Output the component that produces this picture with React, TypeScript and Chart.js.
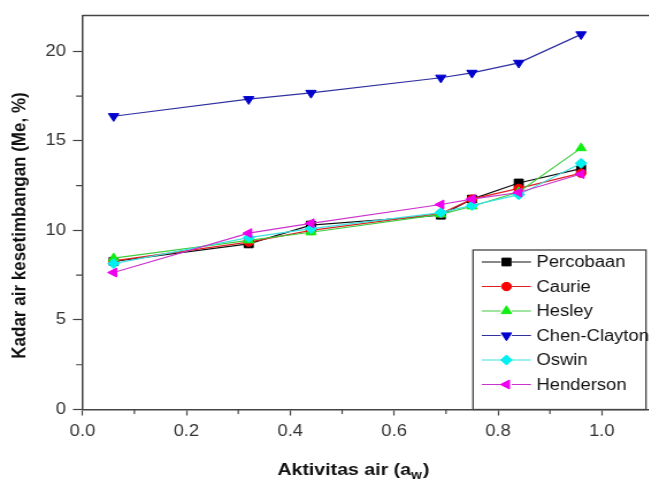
import React, { useEffect, useRef } from 'react';
import { Chart, registerables } from 'chart.js';
import { drawPoint } from 'chart.js/helpers';

Chart.register(...registerables);

// ---- data ----
const aw = [0.06, 0.32, 0.44, 0.69, 0.75, 0.84, 0.96];
const percobaan = [8.27, 9.25, 10.3, 10.85, 11.75, 12.65, 13.45];
const caurie = [8.3, 9.35, 10.0, 10.95, 11.75, 12.35, 13.2];
const hesley = [8.45, 9.45, 9.9, 10.9, 11.35, 12.15, 14.6];
const chenClayton = [16.38, 17.33, 17.68, 18.53, 18.8, 19.36, 20.95];
const oswin = [8.15, 9.6, 10.1, 11.0, 11.4, 12.0, 13.75];
const henderson = [7.65, 9.85, 10.4, 11.45, 11.75, 12.12, 13.15];

const seriesNames = ['Percobaan', 'Caurie', 'Hesley', 'Chen-Clayton', 'Oswin', 'Henderson'];
const seriesValues = [percobaan, caurie, hesley, chenClayton, oswin, henderson];

const xTicks = [0, 0.2, 0.4, 0.6, 0.8, 1.0];
const xMinorTicks = [0.1, 0.3, 0.5, 0.7, 0.9];
const yTicks = [0, 5, 10, 15, 20];
const yMinorTicks = [2.5, 7.5, 12.5, 17.5];

const xTitleMain = 'Aktivitas air (a';
const xTitleSub = 'w';
const xTitleEnd = ')';
const yTitle = 'Kadar air kesetimbangan (Me, %)';

// ---- styles ----
const SX = 1.15;
const W = 575;
const H = 481;
const AXIS = '#444';
const FONT = '"Liberation Sans", Arial, sans-serif';

const styles = [
  { marker: '#000000', line: '#111111', pointStyle: 'rect', rotation: 0, radius: 5.5 },
  { marker: '#ff0000', line: '#e02020', pointStyle: 'circle', rotation: 0, radius: 4.2 },
  { marker: '#11ee11', line: '#40cc40', pointStyle: 'triangle', rotation: 0, radius: 5.2 },
  { marker: '#0000cc', line: '#3030a0', pointStyle: 'triangle', rotation: 180, radius: 5.2 },
  { marker: '#00f0f0', line: '#40e0e0', pointStyle: 'rectRot', rotation: 0, radius: 5 },
  { marker: '#ee00ee', line: '#cc33cc', pointStyle: 'triangle', rotation: 270, radius: 5.2 },
];

const framePlugin = {
  id: 'frame',
  afterDraw(chart: any) {
    const { ctx, chartArea: ca, scales } = chart;
    const x = scales.x;
    const y = scales.y;
    ctx.save();
    // top border
    ctx.strokeStyle = AXIS;
    ctx.lineWidth = 1.5;
    ctx.beginPath();
    ctx.moveTo(ca.left, ca.top);
    ctx.lineTo(ca.right, ca.top);
    ctx.stroke();
    // minor ticks
    ctx.lineWidth = 1.2;
    ctx.beginPath();
    xMinorTicks.forEach((v) => {
      const px = x.getPixelForValue(v);
      ctx.moveTo(px, ca.bottom);
      ctx.lineTo(px, ca.bottom + 4.5);
    });
    yMinorTicks.forEach((v) => {
      const py = y.getPixelForValue(v);
      ctx.moveTo(ca.left, py);
      ctx.lineTo(ca.left - 5.5, py);
    });
    ctx.stroke();

    // titles
    ctx.fillStyle = '#111';
    ctx.font = `bold 17px ${FONT}`;
    const wMain = ctx.measureText(xTitleMain).width;
    ctx.font = `bold 12px ${FONT}`;
    const wSub = ctx.measureText(xTitleSub).width;
    ctx.font = `bold 17px ${FONT}`;
    const wEnd = ctx.measureText(xTitleEnd).width;
    const total = wMain + wSub + wEnd + 1;
    let tx = 307.3 - total / 2;
    const ty = 475;
    ctx.textAlign = 'left';
    ctx.textBaseline = 'alphabetic';
    ctx.fillText(xTitleMain, tx, ty);
    tx += wMain;
    ctx.font = `bold 12px ${FONT}`;
    ctx.fillText(xTitleSub, tx, ty + 4);
    tx += wSub + 1;
    ctx.font = `bold 17px ${FONT}`;
    ctx.fillText(xTitleEnd, tx, ty);

    ctx.save();
    ctx.translate(22.4, 225.5);
    ctx.rotate(-Math.PI / 2);
    ctx.textAlign = 'center';
    ctx.fillText(yTitle, 0, 0);
    ctx.restore();

    // legend
    const lx = 411.3;
    const lt = 250;
    const lr = 561.7;
    const lb = ca.bottom;
    ctx.fillStyle = '#fff';
    ctx.fillRect(lx, lt, lr - lx, lb - lt);
    ctx.strokeStyle = AXIS;
    ctx.lineWidth = 1.3;
    ctx.strokeRect(lx, lt, lr - lx, lb - lt);
    ctx.font = `16px ${FONT}`;
    ctx.textBaseline = 'middle';
    ctx.textAlign = 'left';
    seriesNames.forEach((name, i) => {
      const st = styles[i];
      const ey = 262 + i * 24.5;
      ctx.strokeStyle = st.line;
      ctx.lineWidth = 1.2;
      ctx.beginPath();
      ctx.moveTo(419, ey);
      ctx.lineTo(435.5, ey);
      ctx.moveTo(445, ey);
      ctx.lineTo(461.7, ey);
      ctx.stroke();
      ctx.fillStyle = st.marker;
      ctx.strokeStyle = st.marker;
      ctx.lineWidth = 1;
      drawPoint(ctx, { pointStyle: st.pointStyle, rotation: st.rotation, radius: st.radius, borderWidth: 1 } as any, 440.4, ey);
      ctx.fillStyle = '#111';
      ctx.fillText(name, 466.5, ey + 1);
    });
    ctx.restore();
  },
};

export default function App() {
  const ref = useRef<HTMLCanvasElement | null>(null);

  useEffect(() => {
    if (!ref.current) return;
    const datasets = seriesNames.map((name, i) => ({
      label: name,
      data: aw.map((a, j) => ({ x: a, y: seriesValues[i][j] })),
      borderColor: styles[i].line,
      borderWidth: 1.2,
      backgroundColor: styles[i].marker,
      pointBackgroundColor: styles[i].marker,
      pointBorderColor: styles[i].marker,
      pointBorderWidth: 1,
      pointStyle: styles[i].pointStyle,
      pointRotation: styles[i].rotation,
      pointRadius: styles[i].radius,
      tension: 0,
      fill: false,
      order: 6 - i,
    }));

    const chart = new Chart(ref.current, {
      type: 'line',
      data: { datasets },
      plugins: [framePlugin],
      options: {
        animation: false,
        responsive: false,
        devicePixelRatio: 1,
        events: [],
        layout: { padding: { left: 0, top: 11.5, right: W - 568.7, bottom: 0 } },
        plugins: { legend: { display: false }, tooltip: { enabled: false }, title: { display: false } },
        scales: {
          x: {
            type: 'linear',
            min: 0,
            max: 1.1,
            afterFit: (s: any) => { s.height = H - 409.5; },
            afterBuildTicks: (s: any) => { s.ticks = xTicks.map((v) => ({ value: v })); },
            grid: { drawOnChartArea: false, drawTicks: true, tickLength: 6, tickColor: AXIS, tickWidth: 1.2 },
            border: { display: true, color: AXIS, width: 1.5 },
            ticks: {
              padding: 6,
              color: '#333',
              font: { family: FONT, size: 16 },
              maxRotation: 0,
              autoSkip: false,
              callback: (v: any) => Number(v).toFixed(1),
            },
          },
          y: {
            type: 'linear',
            min: 0,
            max: 22,
            afterFit: (s: any) => { s.width = 71.7; },
            afterBuildTicks: (s: any) => { s.ticks = yTicks.map((v) => ({ value: v })); },
            grid: { drawOnChartArea: false, drawTicks: true, tickLength: 8.3, tickColor: AXIS, tickWidth: 1.2 },
            border: { display: true, color: AXIS, width: 1.5 },
            ticks: {
              padding: 6,
              color: '#333',
              font: { family: FONT, size: 16 },
              autoSkip: false,
              callback: (v: any) => String(v),
            },
          },
        },
      },
    });
    return () => chart.destroy();
  }, []);

  return (
    <div style={{ position: 'fixed', left: 0, top: 0, width: 649, height: 481, overflow: 'hidden', background: '#fff' }}>
      <div style={{ width: W, height: H, transform: `scaleX(${SX})`, transformOrigin: '0 0' }}>
        <canvas ref={ref} width={W} height={H} style={{ display: 'block' }} />
      </div>
    </div>
  );
}
